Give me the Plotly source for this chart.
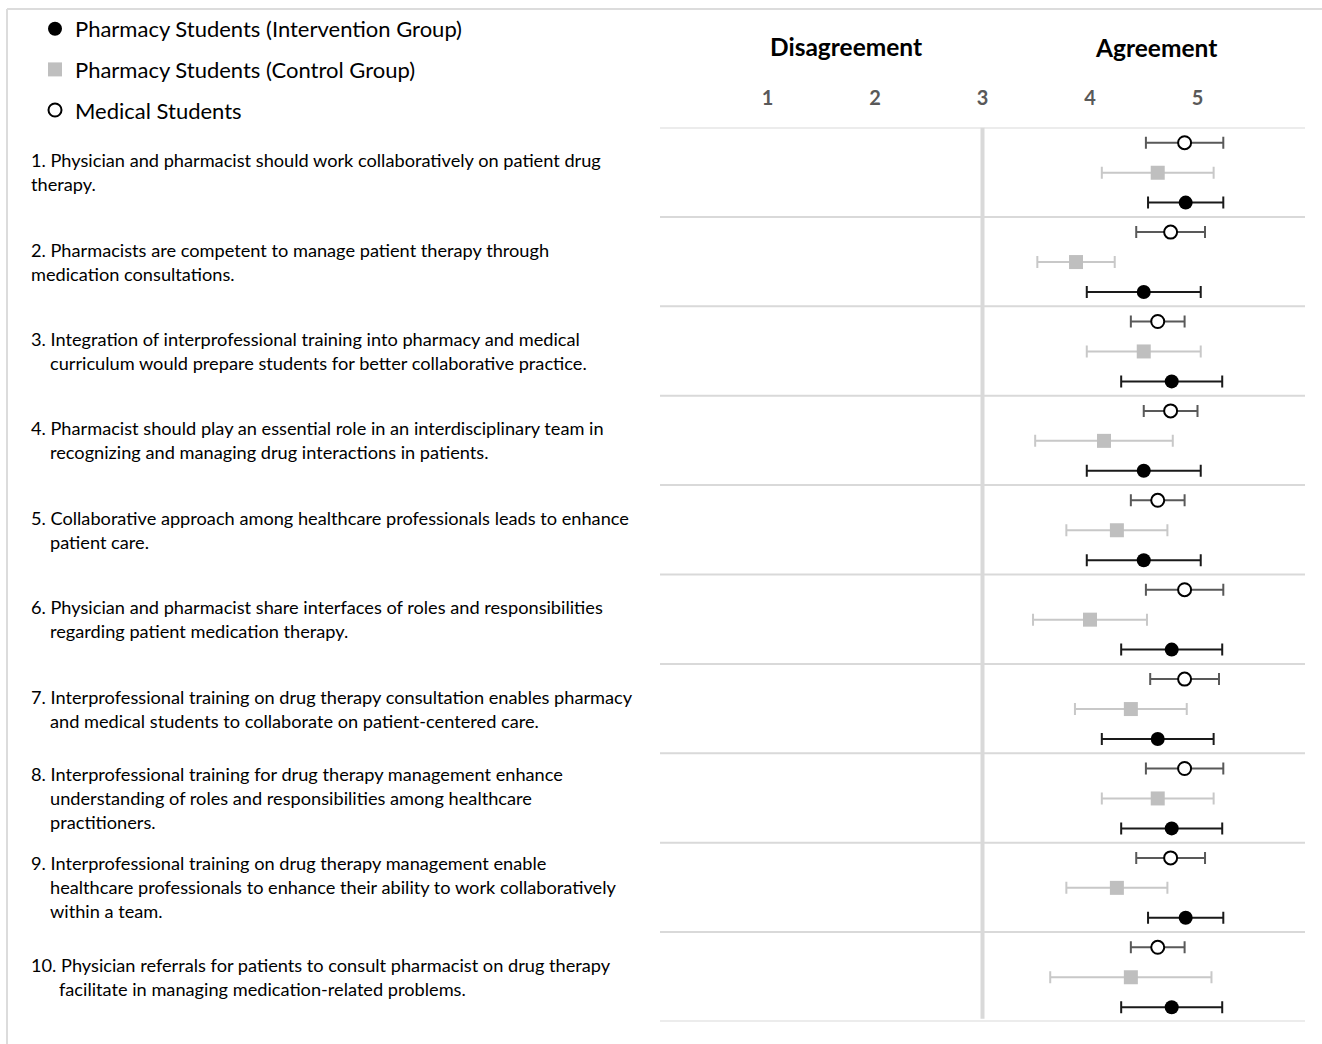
import plotly.graph_objects as go

# Likert scale summary (mean ± SD) for each statement and student group
statements = [
    ["1. Physician and pharmacist should work collaboratively on patient drug",
     "therapy."],
    ["2. Pharmacists are competent to manage patient therapy through",
     "medication consultations."],
    ["3. Integration of interprofessional training into pharmacy and medical",
     "curriculum would prepare students for better collaborative practice."],
    ["4. Pharmacist should play an essential role in an interdisciplinary team in",
     "recognizing and managing drug interactions in patients."],
    ["5. Collaborative approach among healthcare professionals leads to enhance",
     "patient care."],
    ["6. Physician and pharmacist share interfaces of roles and responsibilities",
     "regarding patient medication therapy."],
    ["7. Interprofessional training on drug therapy consultation enables pharmacy",
     "and medical students to collaborate on patient-centered care."],
    ["8. Interprofessional training for drug therapy management enhance",
     "understanding of roles and responsibilities among healthcare",
     "practitioners."],
    ["9. Interprofessional training on drug therapy management enable",
     "healthcare professionals to enhance their ability to work collaboratively",
     "within a team."],
    ["10. Physician referrals for patients to consult pharmacist on drug therapy",
     "facilitate in managing medication-related problems."],
]
# indentation (px) of continuation lines
indent_px = [0, 0, 19, 19, 19, 19, 19, 19, 19, 28]

intervention_mean = [4.89, 4.50, 4.76, 4.50, 4.50, 4.76, 4.63, 4.76, 4.89, 4.76]
intervention_sd = [0.35, 0.53, 0.47, 0.53, 0.53, 0.47, 0.52, 0.47, 0.35, 0.47]

control_mean = [4.63, 3.87, 4.50, 4.13, 4.25, 4.00, 4.38, 4.63, 4.25, 4.38]
control_sd = [0.52, 0.36, 0.53, 0.64, 0.47, 0.53, 0.52, 0.52, 0.47, 0.75]

medical_mean = [4.88, 4.75, 4.63, 4.75, 4.63, 4.88, 4.88, 4.88, 4.75, 4.63]
medical_sd = [0.36, 0.32, 0.25, 0.25, 0.25, 0.36, 0.32, 0.36, 0.32, 0.25]

scale_ticks = [1, 2, 3, 4, 5]

W, H = 1322, 1044
X0_PX, X1_PX = 660, 1305      # plotting area, horizontal
Y0_PX, Y1_PX = 127.5, 1021.5  # plotting area, vertical
n_rows = len(statements)
row_px = (Y1_PX - Y0_PX) / n_rows

# vertical slot of each group inside a statement row
slot = {"med": 0.17, "ctl": 0.505, "int": 0.84}

FONT = "Lato"
rows = list(range(n_rows))

fig = go.Figure()

fig.add_trace(go.Scatter(
    name="Pharmacy Students (Intervention Group)",
    legendgroup="a",
    x=intervention_mean, y=[r + slot["int"] for r in rows],
    mode="markers",
    marker=dict(symbol="circle", size=14, color="#000000"),
    error_x=dict(type="data", array=intervention_sd, color="#1a1a1a", thickness=2, width=6),
))
fig.add_trace(go.Scatter(
    name="Pharmacy Students (Control Group)",
    legendgroup="b",
    x=control_mean, y=[r + slot["ctl"] for r in rows],
    mode="markers",
    marker=dict(symbol="square", size=14, color="#bfbfbf"),
    error_x=dict(type="data", array=control_sd, color="#c8c8c8", thickness=2, width=6),
))
fig.add_trace(go.Scatter(
    name="Medical Students",
    legendgroup="c",
    x=medical_mean, y=[r + slot["med"] for r in rows],
    mode="markers",
    marker=dict(symbol="circle", size=13, color="#ffffff", line=dict(color="#000000", width=2)),
    error_x=dict(type="data", array=medical_sd, color="#595959", thickness=2, width=6),
))

shapes = []
# row separators
for i in range(n_rows + 1):
    shapes.append(dict(type="line", xref="x domain", yref="y", x0=0, x1=1, y0=i, y1=i,
                       line=dict(color="#d9d9d9", width=2), layer="below"))
# neutral mid-point line
shapes.append(dict(type="line", xref="x", yref="y", x0=3, x1=3, y0=0, y1=n_rows - 0.03,
                   line=dict(color="#d9d9d9", width=4), layer="below"))
# frame lines at top and left
shapes.append(dict(type="line", xref="paper", yref="paper", x0=7 / W, x1=1, y0=1 - 9 / H, y1=1 - 9 / H,
                   line=dict(color="#dcdcdc", width=2)))
shapes.append(dict(type="line", xref="paper", yref="paper", x0=7 / W, x1=7 / W, y0=0, y1=1 - 9 / H,
                   line=dict(color="#dcdcdc", width=2)))

annotations = []
line_gap = 24 / row_px
for r, lines in enumerate(statements):
    n = len(lines)
    centre = r + 0.5
    for j, txt in enumerate(lines):
        x_px = 29 + (indent_px[r] if j > 0 else 0)
        annotations.append(dict(
            xref="paper", yref="y", x=x_px / W, y=centre + (j - (n - 1) / 2) * line_gap,
            xanchor="left", yanchor="middle", text=txt, showarrow=False,
            font=dict(family=FONT, size=18.2, color="#000000"),
        ))

for label, xv, ypx in [("Disagreement", 1.73, 46), ("Agreement", 4.61, 48)]:
    annotations.append(dict(
        xref="x", yref="paper", x=xv, y=1 - ypx / H, xanchor="center", yanchor="middle",
        text="<b>" + label + "</b>", showarrow=False,
        font=dict(family=FONT, size=24.5, color="#000000"),
    ))

fig.update_layout(
    width=W, height=H,
    margin=dict(l=0, r=0, t=0, b=0),
    paper_bgcolor="#ffffff", plot_bgcolor="#ffffff",
    showlegend=True,
    legend=dict(
        x=35 / W, y=1 - 8 / H, xanchor="left", yanchor="top",
        traceorder="grouped", tracegroupgap=9,
        font=dict(family=FONT, size=22, color="#000000"),
        bgcolor="rgba(0,0,0,0)",
    ),
    xaxis=dict(
        domain=[X0_PX / W, X1_PX / W], range=[0, 6],
        side="top", tickvals=scale_ticks, ticktext=["<b>%d</b>" % t for t in scale_ticks],
        tickfont=dict(family=FONT, size=20, color="#595959"),
        showgrid=False, zeroline=False, showline=False, ticks="",
        ticklabelstandoff=18, fixedrange=True,
    ),
    yaxis=dict(
        domain=[1 - Y1_PX / H, 1 - Y0_PX / H], range=[n_rows, 0],
        showgrid=False, zeroline=False, showline=False, showticklabels=False, ticks="",
        fixedrange=True,
    ),
    shapes=shapes,
    annotations=annotations,
)

fig.write_html("out.html")
